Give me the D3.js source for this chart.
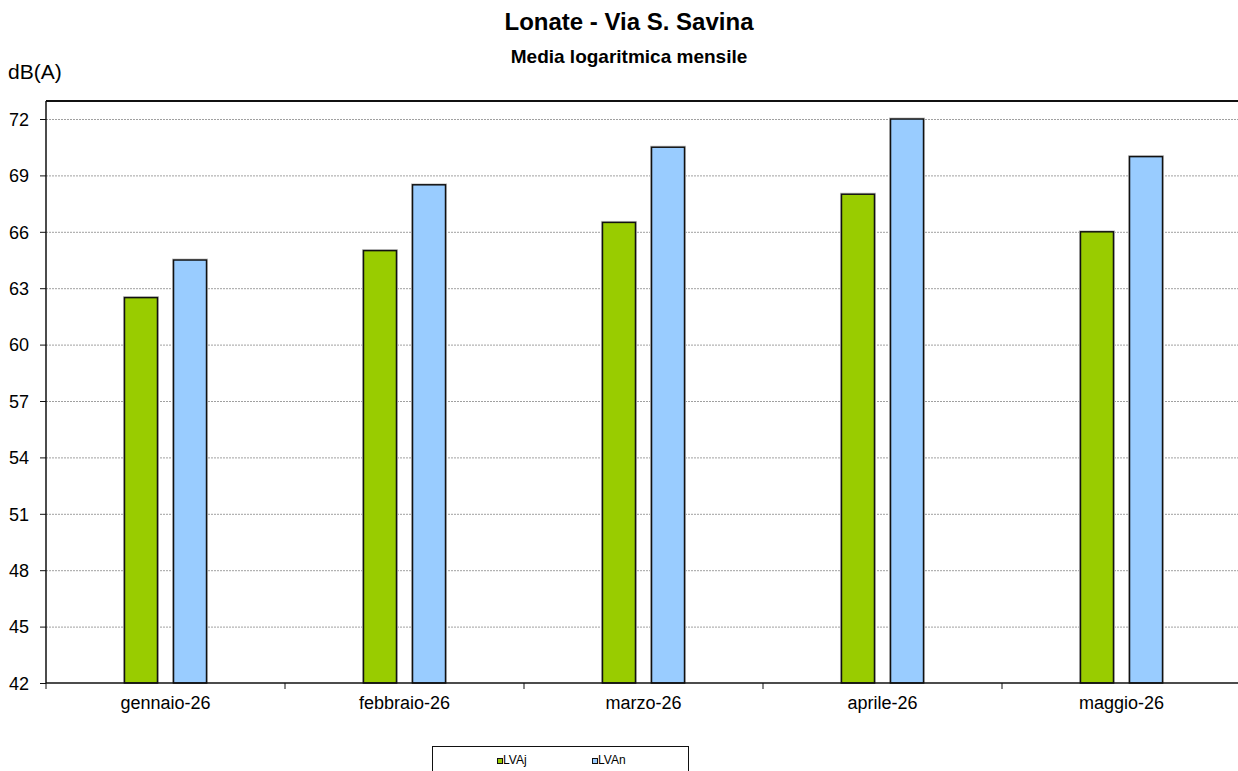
<!DOCTYPE html>
<html><head><meta charset="utf-8">
<script src="https://cdn.jsdelivr.net/npm/d3@7/dist/d3.min.js"></script>
<style>
html,body{margin:0;padding:0;background:#fff;overflow:hidden}
text{font-family:"Liberation Sans",Arial,sans-serif}
</style></head>
<body><svg id="c" width="1238" height="771"></svg>
<script>
const categories = ["gennaio-26","febbraio-26","marzo-26","aprile-26","maggio-26"];
const seriesNames = ["LVAj","LVAn"];
const lvaj = [62.5, 65, 66.5, 68, 66];
const lvan = [64.5, 68.5, 70.5, 72, 70];
const yTicks = [42,45,48,51,54,57,60,63,66,69,72];
const colors = ["#99cc00","#99ccff"];

const svg = d3.select("#c");
const F = "Liberation Sans, Arial, sans-serif";
const L=46, R=1241, T=101, B=683;
const x0 = d3.scaleBand().domain(categories).range([L,R]).paddingInner(0).paddingOuter(0);
const x1 = d3.scaleBand().domain(seriesNames).range([0,x0.bandwidth()]).paddingInner(0.327).paddingOuter(1.6);
const y = d3.scaleLinear().domain([42,72]).range([B,119]);

// gridlines
svg.append("g").selectAll("line").data(yTicks.filter(d=>d>42)).join("line")
  .attr("x1",L).attr("x2",R).attr("y1",d=>y(d)+0.5).attr("y2",d=>y(d)+0.5)
  .attr("stroke","#a0a0a0").attr("stroke-width",1).attr("stroke-dasharray","2,1");

// frame top
svg.append("line").attr("x1",L).attr("x2",1238).attr("y1",T).attr("y2",T).attr("stroke","#111").attr("stroke-width",2);

// bars
const data = categories.map((c,i)=>({c, vals:[lvaj[i],lvan[i]]}));
const g = svg.append("g");
data.forEach(d=>{
  d.vals.forEach((v,j)=>{
    const xx = x0(d.c)+x1(seriesNames[j]);
    g.append("rect").attr("x",xx-1).attr("y",y(v)-1).attr("width",x1.bandwidth()+2).attr("height",B-y(v)+1)
      .attr("fill","none").attr("stroke","#c8c8c8").attr("stroke-width",1);
    g.append("rect").attr("x",xx).attr("y",y(v)).attr("width",x1.bandwidth()).attr("height",B-y(v))
      .attr("fill",colors[j]).attr("stroke","#111").attr("stroke-width",1.5);
  });
});

// y axis
const ya = d3.axisLeft(y).tickValues(yTicks).tickSize(6).tickPadding(11);
const yg = svg.append("g").attr("transform",`translate(${L},0)`).call(ya);
yg.select(".domain").attr("d",`M0,${T}V${B}`).attr("stroke","#111").attr("stroke-width",1.5);
yg.selectAll(".tick line").attr("stroke","#111");
yg.selectAll("text").attr("font-size",18).attr("dy","0.35em").attr("fill","#000").attr("font-family",F);

// x axis
const xa = d3.axisBottom(x0).tickSize(0).tickPadding(13);
const xg = svg.append("g").attr("transform",`translate(0,${B})`).call(xa);
xg.select(".domain").attr("d",`M${L},0H${R}`).attr("stroke","#111").attr("stroke-width",1.5);
xg.selectAll("text").attr("font-size",18).attr("fill","#000").attr("font-family",F);
xg.selectAll("line.bnd").data(categories.map(c=>x0(c)).concat([R])).join("line")
  .attr("class","bnd").attr("x1",d=>d).attr("x2",d=>d).attr("y1",0).attr("y2",6).attr("stroke","#111");

// titles
svg.append("text").attr("x",629).attr("y",30).attr("text-anchor","middle").attr("font-size",24).attr("font-weight","bold").text("Lonate - Via S. Savina");
svg.append("text").attr("x",629).attr("y",63).attr("text-anchor","middle").attr("font-size",19).attr("font-weight","bold").text("Media logaritmica mensile");
svg.append("text").attr("x",8).attr("y",79).attr("font-size",21).text("dB(A)");

// legend
svg.append("rect").attr("x",432.5).attr("y",746.5).attr("width",256).attr("height",30).attr("fill","#fff").attr("stroke","#111").attr("stroke-width",1);
const lx = [497,592];
seriesNames.forEach((s,i)=>{
  svg.append("rect").attr("x",lx[i]+0.5).attr("y",758.5).attr("width",5).attr("height",5).attr("fill",colors[i]).attr("stroke","#111").attr("stroke-width",1);
  svg.append("text").attr("x",lx[i]+6).attr("y",764).attr("font-size",12).text(s);
});
</script></body></html>
